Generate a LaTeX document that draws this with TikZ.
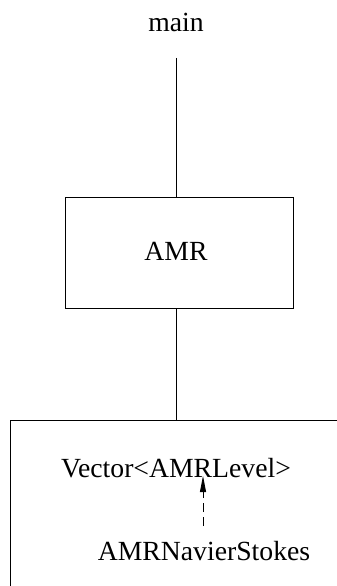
\documentclass[tikz,border=0pt]{standalone}
\usepackage{fontspec}
\setmainfont{Liberation Serif}
\usetikzlibrary{arrows.meta}
\begin{document}
\begin{tikzpicture}[x=1pt,y=-1pt,line width=0.8pt,
    every node/.style={font=\fontsize{27.7}{33}\selectfont}]
      \useasboundingbox (0,0) rectangle (337,586);
      \draw
        (176,32) node[anchor=base] (main){main}
        (179.5,253) node[draw,minimum width=228.2pt,minimum height=111.2pt] (amr){}
        (176,260) node[anchor=base] (amrlabel){AMR}
        (176,477) node[anchor=base] (vec){Vector<AMRLevel>}
        (204,560) node[anchor=base] (ns){AMRNavierStokes};
      \coordinate (mainend) at (176,58);
      \coordinate (levels) at (176,420);
      \coordinate (vecin) at (203,476);
      \coordinate (nsout) at (203,526);
      \begin{scope}[-]
        \draw (mainend) to (mainend |- amr.north);
        \draw (levels |- amr.south) to (levels);
        \draw (337,420) -| (10,586);
        \draw[dashed,dash pattern=on 9pt off 5pt,-{Triangle[length=16pt,width=6pt]}] (nsout) to (vecin);
      \end{scope}
    \end{tikzpicture}
\end{document}
